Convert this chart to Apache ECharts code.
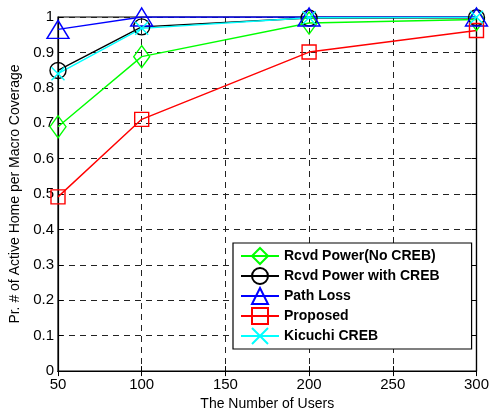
<!DOCTYPE html>
<html>
<head>
<meta charset="utf-8">
<script src="https://cdn.jsdelivr.net/npm/echarts@6/dist/echarts.min.js"></script>
<style>html,body{margin:0;padding:0;background:#fff;}#c{width:492px;height:416px;}</style>
</head>
<body>
<div id="c"></div>
<script>
var users = [50, 100, 200, 300];
var rcvdNoCreb = [0.69, 0.888, 0.983, 0.993];
var rcvdCreb = [0.849, 0.972, 0.997, 0.998];
var pathLoss = [0.965, 1.0, 1.0, 1.0];
var proposed = [0.492, 0.711, 0.901, 0.962];
var kicuchi = [0.84, 0.968, 0.998, 0.999];
var names = ['Rcvd Power(No CREB)', 'Rcvd Power with CREB', 'Path Loss', 'Proposed', 'Kicuchi CREB'];

function pts(v) { return users.map(function (u, i) { return [u, v[i]]; }); }
function mk(name, vals, color, symbol, size) {
  return {
    name: name, type: 'line', data: pts(vals), color: color,
    symbol: symbol, symbolSize: size, showAllSymbol: true,
    lineStyle: { color: color, width: 1.4 },
    itemStyle: { color: 'transparent', borderColor: color, borderWidth: 1.4 },
    emphasis: { disabled: true }, animation: false
  };
}
var font = 'Liberation Sans, Arial, sans-serif';
var chart = echarts.init(document.getElementById('c'));
var gridDash = { show: true, lineStyle: { color: '#222', type: [6, 5], width: 1 } };
chart.setOption({
  animation: false,
  grid: { left: 57, right: 14, top: 17, bottom: 44, show: true, borderColor: '#000', borderWidth: 1.2, backgroundColor: 'transparent' },
  xAxis: [{
    type: 'value', min: 50, max: 300, interval: 50,
    name: 'The Number of Users', nameLocation: 'middle', nameGap: 25,
    nameTextStyle: { fontFamily: font, fontSize: 14, color: '#000' },
    axisLine: { show: true, lineStyle: { color: '#000', width: 1.2 } },
    axisTick: { show: true, inside: true, length: 5, lineStyle: { color: '#000' } },
    axisLabel: { fontFamily: font, fontSize: 15, color: '#000', margin: 6 },
    splitLine: gridDash
  }, {
    type: 'value', min: 50, max: 300, interval: 50, position: 'top',
    axisLine: { show: true, lineStyle: { color: '#000', width: 1.2 } },
    axisTick: { show: true, inside: true, length: 5, lineStyle: { color: '#000' } },
    axisLabel: { show: false }, splitLine: { show: false }
  }],
  yAxis: [{
    type: 'value', min: 0, max: 1, interval: 0.1,
    name: 'Pr. # of Active Home per Macro Coverage', nameLocation: 'middle', nameGap: 36,
    nameTextStyle: { fontFamily: font, fontSize: 14, color: '#000' },
    axisLine: { show: true, lineStyle: { color: '#000', width: 1.2 } },
    axisTick: { show: true, inside: true, length: 5, lineStyle: { color: '#000' } },
    axisLabel: { fontFamily: font, fontSize: 15, color: '#000', margin: 4 },
    splitLine: gridDash
  }, {
    type: 'value', min: 0, max: 1, interval: 0.1, position: 'right',
    axisLine: { show: true, lineStyle: { color: '#000', width: 1.2 } },
    axisTick: { show: true, inside: true, length: 5, lineStyle: { color: '#000' } },
    axisLabel: { show: false }, splitLine: { show: false }
  }],
  legend: {
    data: names, orient: 'vertical', left: 233, top: 243,
    padding: [4, 32, 4, 7],
    itemWidth: 38, itemHeight: 20, itemGap: 2,
    backgroundColor: '#fff', borderColor: '#000', borderWidth: 1.2,
    textStyle: { fontFamily: font, fontSize: 14, fontWeight: 'bold', color: '#000' },
    selectedMode: false
  },
  series: [
    mk(names[0], rcvdNoCreb, '#00ff00', 'diamond', [16, 22]),
    mk(names[1], rcvdCreb, '#000000', 'circle', 16),
    mk(names[2], pathLoss, '#0000ff', 'triangle', [22, 18]),
    mk(names[3], proposed, '#ff0000', 'rect', 14),
    mk(names[4], kicuchi, '#00ffff', 'path://M0,0L10,10M10,0L0,10', 13)
  ]
});
</script>
</body>
</html>
